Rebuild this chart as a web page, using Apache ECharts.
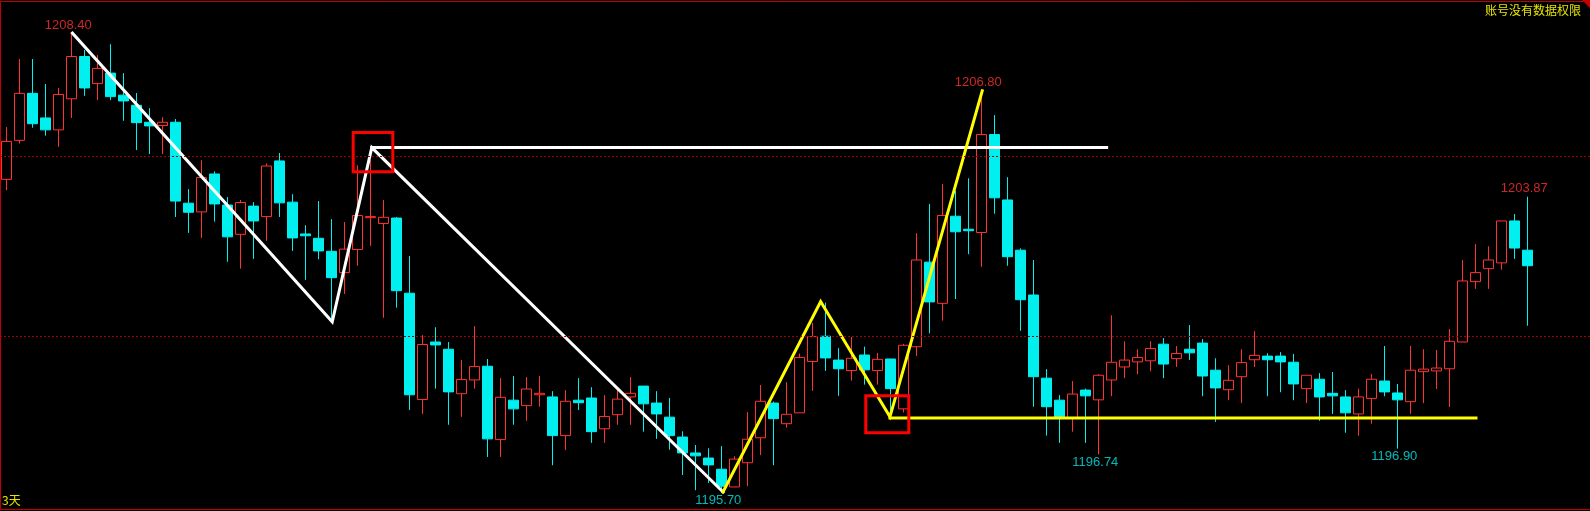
<!DOCTYPE html>
<html><head><meta charset="utf-8">
<script src="https://cdn.jsdelivr.net/npm/echarts@6/dist/echarts.min.js"></script>
<style>html,body{margin:0;padding:0;background:#000;overflow:hidden}#c{width:1590px;height:511px}</style>
</head><body><div id="c"></div>
<script>
// ---- data ----
const openP = [1204.35,1205.43,1206.73,1206.05,1205.72,1206.58,1207.75,1207.00,1207.29,1206.68,
1206.40,1205.93,1205.84,1205.93,1203.69,1203.45,1204.50,1203.64,1202.83,1203.61,
1203.32,1204.86,1203.72,1202.84,1202.72,1202.36,1201.77,1202.41,1203.29,1203.13,
1203.28,1201.20,1198.26,1199.85,1199.65,1198.42,1198.80,1199.18,1197.15,1198.24,
1198.09,1198.39,1198.33,1197.26,1198.24,1198.30,1197.45,1197.84,1198.33,1198.63,
1198.16,1197.77,1197.22,1196.78,1196.64,1196.33,1195.84,1196.51,1197.20,1198.16,
1197.59,1197.89,1199.31,1200.01,1199.35,1199.06,1199.49,1199.06,1199.38,1198.00,
1199.72,1202.06,1200.92,1203.33,1202.97,1202.88,1205.59,1203.78,1202.39,1201.15,
1198.85,1198.24,1197.76,1198.52,1198.25,1198.80,1199.16,1199.30,1199.33,1199.79,
1199.39,1199.65,1199.82,1199.07,1198.53,1198.89,1199.36,1199.46,1199.46,1199.29,
1198.56,1198.82,1198.43,1198.33,1197.86,1198.29,1198.77,1198.44,1198.20,1199.03,
1199.05,1199.11,1199.85,1201.52,1201.88,1202.04,1203.20,1202.39];
const closeP = [1205.40,1206.73,1205.89,1205.72,1206.70,1207.75,1206.88,1207.42,1206.64,1206.52,
1205.92,1205.83,1205.93,1203.75,1203.44,1204.40,1203.67,1202.76,1203.71,1203.20,
1204.72,1203.70,1202.73,1202.79,1202.37,1201.63,1202.42,1203.35,1203.32,1203.30,
1201.27,1198.39,1199.78,1199.77,1198.47,1198.81,1199.17,1197.17,1198.32,1198.00,
1198.55,1198.43,1197.26,1198.21,1198.17,1197.37,1197.79,1198.27,1198.43,1198.14,
1197.86,1197.26,1196.78,1196.70,1196.45,1195.86,1196.61,1197.16,1198.21,1197.73,
1197.85,1199.42,1200.00,1199.41,1199.11,1199.40,1199.08,1199.37,1198.56,1199.76,
1202.12,1200.96,1203.35,1202.90,1202.93,1205.59,1203.84,1202.21,1201.02,1198.89,
1198.06,1197.76,1198.41,1198.36,1198.93,1199.29,1199.35,1199.42,1199.67,1199.24,
1199.53,1199.55,1198.91,1198.58,1198.79,1199.28,1199.48,1199.36,1199.30,1198.69,
1198.93,1198.33,1198.36,1197.89,1198.33,1198.82,1198.47,1198.25,1199.07,1199.10,
1199.13,1199.87,1201.54,1201.77,1202.12,1203.20,1202.45,1201.96];
const lowP = [1204.05,1205.34,1205.78,1205.56,1205.25,1206.05,1206.66,1206.54,1206.54,1205.97,
1205.16,1205.05,1205.05,1203.31,1202.87,1202.73,1203.18,1202.07,1201.88,1202.15,
1202.65,1203.31,1202.37,1201.57,1202.14,1200.41,1201.18,1201.96,1202.51,1200.52,
1200.80,1197.97,1197.86,1198.56,1197.56,1197.78,1198.56,1196.67,1196.67,1197.56,
1197.67,1198.06,1196.44,1196.86,1197.97,1197.06,1197.06,1197.56,1197.56,1197.37,
1197.17,1196.87,1196.17,1195.75,1195.95,1195.70,1195.84,1195.86,1196.72,1196.44,
1197.48,1197.89,1198.50,1199.05,1198.36,1198.78,1198.67,1198.67,1197.87,1197.90,
1199.46,1200.09,1200.44,1201.04,1202.28,1201.93,1203.40,1201.96,1200.16,1198.06,
1197.26,1197.06,1197.37,1197.06,1196.74,1198.35,1198.85,1198.96,1199.04,1198.85,
1199.16,1199.35,1198.35,1197.64,1198.24,1198.16,1199.16,1198.35,1198.46,1198.24,
1198.16,1197.67,1197.86,1197.34,1197.26,1197.59,1198.35,1196.90,1197.86,1198.16,
1198.55,1198.05,1199.85,1201.32,1201.32,1201.85,1202.15,1200.30];
const highP = [1205.80,1207.68,1207.68,1206.99,1206.88,1208.40,1207.93,1207.79,1208.09,1207.29,
1206.74,1206.32,1206.07,1206.02,1204.08,1204.88,1204.57,1203.86,1203.78,1203.72,
1204.79,1205.08,1203.94,1203.08,1203.75,1203.25,1203.17,1204.74,1204.88,1203.78,
1203.31,1202.23,1200.04,1200.26,1199.85,1199.35,1200.29,1199.38,1198.85,1198.91,
1198.88,1198.91,1198.49,1198.52,1198.85,1198.60,1198.38,1198.56,1198.88,1198.63,
1198.49,1198.30,1197.38,1197.00,1196.91,1196.97,1196.69,1197.91,1198.66,1198.20,
1198.74,1199.53,1200.38,1200.94,1199.68,1199.99,1199.72,1199.55,1199.38,1199.80,
1202.86,1203.67,1204.22,1204.04,1204.38,1206.80,1206.13,1204.41,1202.44,1202.12,
1199.10,1198.38,1198.77,1198.56,1198.96,1200.59,1199.87,1199.65,1199.87,1199.96,
1199.74,1200.32,1199.93,1199.40,1199.21,1199.65,1200.15,1199.54,1199.57,1199.52,
1198.93,1198.99,1199.02,1198.52,1198.56,1198.96,1199.74,1198.69,1199.74,1199.65,
1199.63,1200.21,1202.12,1202.56,1202.50,1203.20,1203.39,1203.87];

// reference price levels (dotted)
const gridLevels = [1200, 1205];
// annotated extremes: [bar index, price]
const highMarks = [[5, 1208.40], [75, 1206.80], [117, 1203.87]];
const lowMarks = [[55, 1195.70], [84, 1196.74], [107, 1196.90]];
// hand-drawn trend lines: [bar position, price]
const whiteZigzag = [[5.08, 1208.40], [25.07, 1200.41], [28.11, 1205.23], [55.13, 1195.70]];
const whiteLevel = [[28.11, 1205.23], [84.64, 1205.23]];
const yellowZigzag = [[55.13, 1195.70], [62.64, 1200.97], [67.97, 1197.78], [75.07, 1206.80]];
const yellowLevel = [[67.97, 1197.75], [113.05, 1197.75]];
// highlight boxes: [x1, x2, priceTop, priceBottom]
const boxes = [[26.68, 29.73, 1205.65, 1204.56], [66.11, 69.42, 1198.36, 1197.34]];

const bars = openP.map((o, i) => [i, o, closeP[i], lowP[i], highP[i]]);

const W = 1590, H = 511, STEP = 13, X0 = 6.33;
const PXPER = 36.14;
const xMin = -X0 / STEP, xMax = xMin + W / STEP;
const yMin = 1195.70 - 19 / PXPER, yMax = 1208.40 + 33 / PXPER;

const chart = echarts.init(document.getElementById('c'));
const lineS = (data, color, z) => ({
  type: 'line', data, symbol: 'none', silent: true, clip: false, z,
  lineStyle: { color, width: 3, join: 'miter', cap: 'square' }
});
const labelS = (data, pos, color) => ({
  type: 'scatter', data, symbolSize: 1, itemStyle: { color: 'transparent' }, silent: true, z: 6,
  label: { show: true, position: pos, distance: 1, offset: [-3, 0], color,
    fontSize: 13, fontFamily: 'Liberation Sans, Arial, sans-serif',
    formatter: p => p.value[1].toFixed(2) }
});

chart.setOption({
  backgroundColor: '#000',
  animation: false,
  grid: { left: 0, right: 0, top: 0, bottom: 0 },
  xAxis: { type: 'value', min: xMin, max: xMax, show: false },
  yAxis: { type: 'value', min: yMin, max: yMax, show: false, scale: true },
  series: [
    { type: 'line', data: [], z: 1, silent: true,
      markLine: { silent: true, symbol: 'none', label: { show: false },
        lineStyle: { color: '#a00000', type: [2, 2], width: 1 },
        data: gridLevels.map(v => ({ yAxis: v })) } },
    { type: 'candlestick', data: bars, encode: { x: 0, y: [1, 2, 3, 4] }, barWidth: 10, z: 3,
      itemStyle: { color: '#000', color0: '#00f0f0', borderColor: '#ff3232', borderColor0: '#00f0f0', borderWidth: 1 } },
    lineS(whiteZigzag, '#ffffff', 4),
    lineS(whiteLevel, '#ffffff', 4),
    lineS(yellowZigzag, '#ffff00', 4),
    lineS(yellowLevel, '#ffff00', 4),
    ...boxes.map(b => lineS([[b[0], b[2]], [b[1], b[2]], [b[1], b[3]], [b[0], b[3]], [b[0], b[2]]], '#ff0000', 5)),
    labelS(highMarks, 'top', '#ff3232'),
    labelS(lowMarks, 'bottom', '#00e6e6')
  ],
  graphic: [
    { type: 'rect', silent: true, z: 100, shape: { x: 0.5, y: 1.5, width: 1600, height: 508 },
      style: { fill: null, stroke: '#c00000', lineWidth: 1 } },
    { type: 'polygon', silent: true, z: 101, shape: { points: [[1582, 0], [1590, 0], [1590, 8]] },
      style: { fill: '#c80000' } },
    { type: 'text', right: 9, top: 4, z: 101, silent: true,
      style: { text: '账号没有数据权限', fill: '#e6e600', font: '12px "Noto Sans CJK SC", sans-serif' } },
    { type: 'text', left: 2, top: 494, z: 101, silent: true,
      style: { text: '3天', fill: '#e6e600', font: '12px "Noto Sans CJK SC", sans-serif' } }
  ]
});
</script></body></html>
